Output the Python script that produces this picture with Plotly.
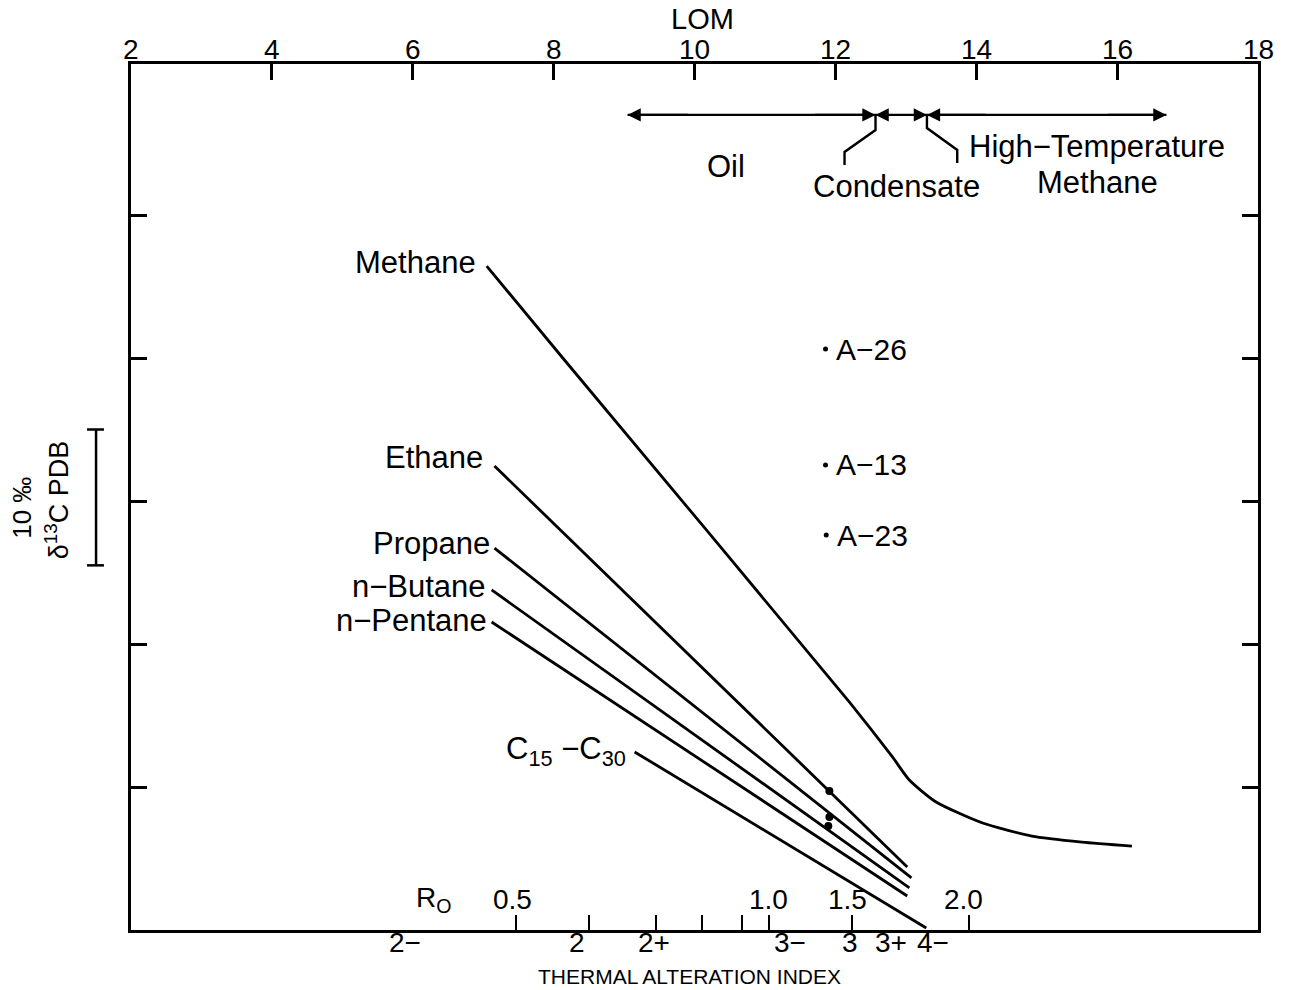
import plotly.graph_objects as go

# ---------------- data (LOM on x, delta13C per mil on y) ----------------
lom_ticks = [2, 4, 6, 8, 10, 12, 14, 16, 18]
lom_tick_labels = ["2", "4", "6", "8", "10", "12", "14", "16", "18"]
d13c_ticks = [-40, -30, -20, -10, 0]

methane_lom = [7.05, 8.13, 12.20, 12.81, 13.05, 13.43, 14.09, 14.79, 15.50, 16.21]
methane_d13c = [-3.57, -10.0, -34.06, -37.90, -39.51, -41.05, -42.52, -43.43, -43.85, -44.13]
ethane_lom = [7.16, 13.02]
ethane_d13c = [-17.55, -45.59]
propane_lom = [7.16, 13.08]
propane_d13c = [-23.29, -46.36]
butane_lom = [7.12, 13.05]
butane_d13c = [-26.22, -47.06]
pentane_lom = [7.12, 13.02]
pentane_d13c = [-28.46, -47.62]
c15_lom = [9.15, 13.29]
c15_d13c = [-37.55, -49.86]

line_labels = ["Methane", "Ethane", "Propane", "n−Butane", "n−Pentane",
               "C<sub>15</sub> −C<sub>30</sub>"]
line_label_lom = [6.93, 7.02, 7.12, 7.07, 7.08, 9.05]
line_label_d13c = [-3.29, -16.99, -22.94, -26.01, -28.39, -37.45]

onl_dot_lom = [11.915, 11.915, 11.90]
onl_dot_d13c = [-40.28, -42.10, -42.73]

sample_names = ["A−26", "A−13", "A−23"]
sample_lom = [11.86, 11.86, 11.87]
sample_d13c = [-9.37, -17.48, -22.38]

# maturity zones along the top
zone_bounds = [9.05, 12.57, 13.30, 16.70]
zone_y = 7.0
cond_leader_lom = [12.57, 12.57, 12.13, 12.13]
cond_leader_d13c = [7.0, 5.94, 4.41, 3.50]
ht_leader_lom = [13.30, 13.30, 13.73, 13.73]
ht_leader_d13c = [7.0, 6.08, 4.55, 3.64]
zone_texts = ["Oil", "Condensate", "High−Temperature", "Methane"]
zone_text_lom = [10.45, 12.87, 15.72, 15.72]
zone_text_d13c = [3.36, 1.96, 4.76, 2.24]

# bottom scales
ro_tick_lom = [7.46, 8.50, 9.45, 10.11, 10.68, 11.06, 12.24, 13.89]
ro_labels = ["R<sub>O</sub>", "0.5", "1.0", "1.5", "2.0"]
ro_label_lom = [6.30, 7.42, 11.05, 12.17, 13.82]
tai_labels = ["2−", "2", "2+", "3−", "3", "3+", "4−"]
tai_label_lom = [5.89, 8.33, 9.42, 11.35, 12.21, 12.79, 13.38]

FONT = "Liberation Sans, Arial, Helvetica, sans-serif"
LW = 2.8
Y_RANGE = [-50, 10.56]

fig = go.Figure()

for xs, ys in [(methane_lom, methane_d13c), (ethane_lom, ethane_d13c),
               (propane_lom, propane_d13c), (butane_lom, butane_d13c),
               (pentane_lom, pentane_d13c), (c15_lom, c15_d13c)]:
    fig.add_trace(go.Scatter(x=xs, y=ys, mode="lines",
                             line=dict(color="black", width=LW, shape="spline", smoothing=0.6),
                             showlegend=False, hoverinfo="skip"))

fig.add_trace(go.Scatter(x=onl_dot_lom, y=onl_dot_d13c, mode="markers",
                         marker=dict(color="black", size=8), showlegend=False))
fig.add_trace(go.Scatter(x=sample_lom, y=sample_d13c, mode="markers",
                         marker=dict(color="black", size=5), showlegend=False))

for xs, ys in [(cond_leader_lom, cond_leader_d13c), (ht_leader_lom, ht_leader_d13c)]:
    fig.add_trace(go.Scatter(x=xs, y=ys, mode="lines",
                             line=dict(color="black", width=2.4),
                             showlegend=False, hoverinfo="skip"))

# zone line (full span) under the arrowheads
fig.add_trace(go.Scatter(x=[zone_bounds[0], zone_bounds[-1]], y=[zone_y, zone_y], mode="lines",
                         line=dict(color="black", width=2.4), showlegend=False, hoverinfo="skip"))

# invisible trace for the bottom (Ro/TAI) axis
fig.add_trace(go.Scatter(x=[2, 18], y=[0, 0], xaxis="x2", mode="markers",
                         marker=dict(opacity=0), showlegend=False, hoverinfo="skip"))

ann = []
# zone double arrows (heads only; line drawn above)
for i in range(len(zone_bounds) - 1):
    a, b = zone_bounds[i], zone_bounds[i + 1]
    for end, other in ((a, b), (b, a)):
        tail = end + (other - end) * 0.25
        ann.append(dict(x=end, y=zone_y, ax=tail, ay=zone_y, xref="x", yref="y",
                        axref="x", ayref="y", showarrow=True, text="",
                        arrowhead=2, arrowsize=1.2, arrowwidth=2.2,
                        arrowcolor="black", standoff=0, startstandoff=0))
for t, x, y in zip(zone_texts, zone_text_lom, zone_text_d13c):
    ann.append(dict(x=x, y=y, text=t, showarrow=False, xref="x", yref="y",
                    yanchor="middle", font=dict(size=31, color="black", family=FONT)))

for t, x, y in zip(line_labels, line_label_lom, line_label_d13c):
    ann.append(dict(x=x, y=y, text=t, showarrow=False, xref="x", yref="y",
                    xanchor="right", yanchor="middle",
                    font=dict(size=31, color="black", family=FONT)))

for t, x, y in zip(sample_names, sample_lom, sample_d13c):
    ann.append(dict(x=x + 0.12, y=y, text=t, showarrow=False, xref="x", yref="y",
                    xanchor="left", yanchor="middle",
                    font=dict(size=30, color="black", family=FONT)))

for t, x in zip(ro_labels, ro_label_lom):
    ann.append(dict(x=x, y=-47.9, text=t, showarrow=False, xref="x", yref="y",
                    yanchor="middle", font=dict(size=28, color="black", family=FONT)))
for t, x in zip(tai_labels, tai_label_lom):
    ann.append(dict(x=x, y=-0.0145, text=t, showarrow=False, xref="x", yref="paper",
                    xanchor="center", yanchor="middle",
                    font=dict(size=28, color="black", family=FONT)))
ann.append(dict(x=9.93, y=-0.0535, text="THERMAL ALTERATION INDEX", showarrow=False,
                xref="x", yref="paper", xanchor="center", yanchor="middle",
                font=dict(size=21, color="black", family=FONT)))
# top LOM scale labels
for t, x in zip(lom_tick_labels, lom_ticks):
    ann.append(dict(x=x, y=1.0165, text=t, showarrow=False, xref="x", yref="paper",
                    xanchor="center", yanchor="middle",
                    font=dict(size=28, color="black", family=FONT)))
ann.append(dict(x=10.12, y=1.0515, text="LOM", showarrow=False, xref="x", yref="paper",
                xanchor="center", yanchor="middle",
                font=dict(size=29, color="black", family=FONT)))

# left scale bar text
ann.append(dict(x=-0.097, y=-20.5, xref="paper", yref="y", text="10 ‰", textangle=-90,
                xanchor="center", yanchor="middle",
                showarrow=False, font=dict(size=26, color="black", family=FONT)))
ann.append(dict(x=-0.066, y=-19.9, xref="paper", yref="y", text="δ<sup>13</sup>C PDB",
                xanchor="center", yanchor="middle",
                textangle=-90, showarrow=False, font=dict(size=27, color="black", family=FONT)))

shapes = [
    dict(type="line", xref="paper", yref="y", x0=-0.031, x1=-0.031, y0=-15.0, y1=-24.5,
         line=dict(color="black", width=2.5)),
    dict(type="line", xref="paper", yref="y", x0=-0.039, x1=-0.024, y0=-15.0, y1=-15.0,
         line=dict(color="black", width=2.5)),
    dict(type="line", xref="paper", yref="y", x0=-0.039, x1=-0.024, y0=-24.5, y1=-24.5,
         line=dict(color="black", width=2.5)),
]

fig.update_layout(
    width=1292, height=990,
    margin=dict(l=131, r=34, t=64, b=60, autoexpand=False),
    paper_bgcolor="white", plot_bgcolor="white",
    annotations=ann, shapes=shapes, showlegend=False,
    xaxis=dict(range=[2, 18], side="top", tickvals=lom_ticks, automargin=False,
               showticklabels=False,
               ticks="inside", ticklen=16, tickwidth=2.6, tickcolor="black",
               showline=True, linewidth=2.8, linecolor="black", mirror=True,
               showgrid=False, zeroline=False),
    xaxis2=dict(range=[2, 18], overlaying="x", side="bottom", tickvals=ro_tick_lom,
                ticks="inside", ticklen=15, tickwidth=2.2, tickcolor="black", automargin=False,
                showticklabels=False, showline=False, showgrid=False, zeroline=False),
    yaxis=dict(range=Y_RANGE, tickvals=d13c_ticks, ticks="inside", ticklen=16,
               tickwidth=2.6, tickcolor="black", showticklabels=False, automargin=False,
               showline=True, linewidth=2.8, linecolor="black", mirror="ticks",
               showgrid=False, zeroline=False),
)

fig.write_html("out.html")
